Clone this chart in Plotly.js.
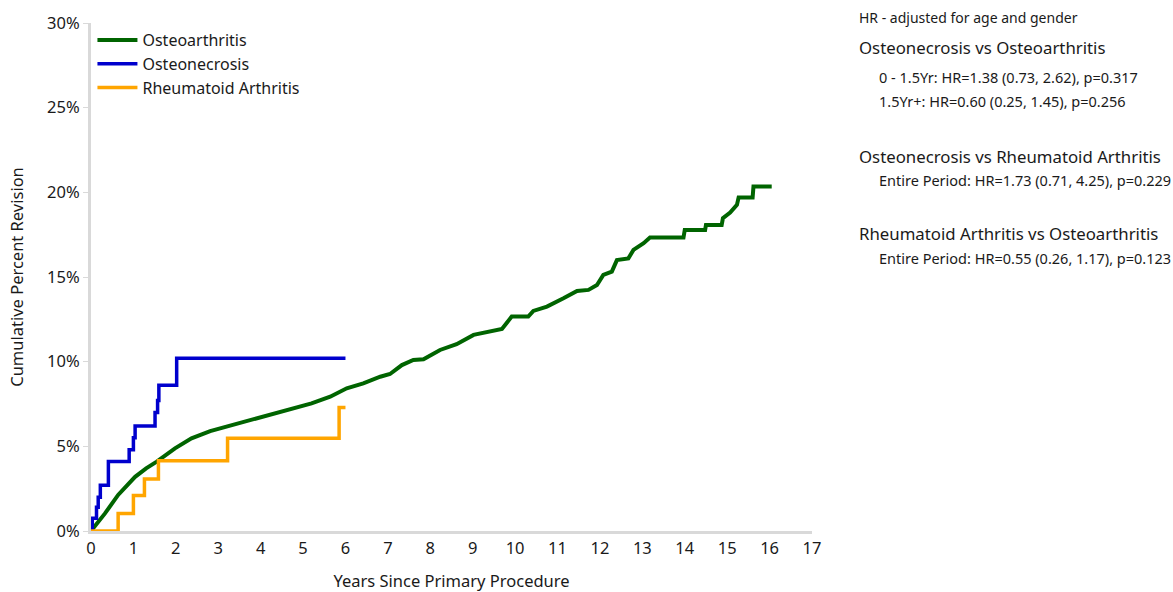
<!DOCTYPE html>
<html>
<head>
<meta charset="utf-8">
<script src="https://cdn.plot.ly/plotly-3.0.1.min.js"></script>
<style>
html,body{margin:0;padding:0;background:#fff;}
#chart{width:1173px;height:592px;}
</style>
</head>
<body>
<div id="chart"></div>
<script>
// ---- Data ----
const seriesNames = ['Osteoarthritis', 'Osteonecrosis', 'Rheumatoid Arthritis'];

const oaYears = [0, 0.1, 0.33, 0.64, 1.04, 1.3, 1.55, 1.98, 2.37, 2.81, 3.32, 3.95, 4.58, 5.2, 5.64, 6.03, 6.42, 6.82, 7.05, 7.33, 7.6, 7.84, 8.23, 8.62, 9.02, 9.41, 9.69, 9.92, 10.31, 10.43, 10.75, 11.14, 11.46, 11.73, 11.93, 12.08, 12.28, 12.4, 12.67, 12.79, 13.03, 13.18, 13.97, 14.0, 14.48, 14.5, 14.87, 14.9, 15.07, 15.23, 15.27, 15.6, 15.62, 16.05];
const oaPct   = [0, 0.3, 1.04, 2.13, 3.2, 3.7, 4.1, 4.88, 5.47, 5.9, 6.26, 6.66, 7.1, 7.54, 7.93, 8.43, 8.72, 9.11, 9.27, 9.8, 10.1, 10.14, 10.69, 11.03, 11.58, 11.77, 11.93, 12.66, 12.66, 13.0, 13.25, 13.74, 14.18, 14.24, 14.53, 15.12, 15.32, 16.0, 16.1, 16.6, 17.0, 17.33, 17.33, 17.78, 17.78, 18.07, 18.07, 18.47, 18.8, 19.26, 19.7, 19.7, 20.34, 20.34];

const onYears = [0, 0.03, 0.13, 0.17, 0.22, 0.41, 0.90, 1.0, 1.04, 1.51, 1.57, 1.60, 2.02, 6.0];
const onPct   = [0, 0.75, 1.4, 2.0, 2.7, 4.1, 4.8, 5.5, 6.2, 7.0, 7.7, 8.6, 10.2, 10.2];

const raYears = [0, 0.64, 1.0, 1.26, 1.59, 3.22, 5.85, 6.0];
const raPct   = [0, 1.04, 2.09, 3.07, 4.15, 5.47, 7.3, 7.3];

const yTickVals = [0, 5, 10, 15, 20, 25, 30];
const xTickVals = [0,1,2,3,4,5,6,7,8,9,10,11,12,13,14,15,16,17];

const noteTexts = [
  'HR - adjusted for age and gender',
  'Osteonecrosis vs Osteoarthritis',
  '0 - 1.5Yr: HR=1.38 (0.73, 2.62), p=0.317',
  '1.5Yr+: HR=0.60 (0.25, 1.45), p=0.256',
  'Osteonecrosis vs Rheumatoid Arthritis',
  'Entire Period: HR=1.73 (0.71, 4.25), p=0.229',
  'Rheumatoid Arthritis vs Osteoarthritis',
  'Entire Period: HR=0.55 (0.26, 1.17), p=0.123'
];

// ---- Styling ----
const FONT = '"Noto Sans", "Open Sans", sans-serif';
const plotL = 91, plotR = 812, plotT = 23, plotB = 531;
const W = 1173, H = 592;
const pw = plotR - plotL, ph = plotB - plotT;
const px2x = p => (p - plotL) / pw;
const px2y = p => (plotB - p) / ph;

const notePx = [
  {x: 857, y: 17, size: 14},
  {x: 857, y: 47, size: 16.8},
  {x: 877, y: 77, size: 14.5},
  {x: 877, y: 101, size: 14.5},
  {x: 857, y: 156, size: 16.8},
  {x: 877, y: 180, size: 14.5},
  {x: 857, y: 233, size: 16.8},
  {x: 877, y: 258, size: 14.5}
];

const traces = [
  {x: oaYears, y: oaPct, name: seriesNames[0], mode: 'lines', line: {color: '#006400', width: 4, shape: 'linear'}},
  {x: onYears, y: onPct, name: seriesNames[1], mode: 'lines', line: {color: '#0000CD', width: 3.5, shape: 'hv'}},
  {x: raYears, y: raPct, name: seriesNames[2], mode: 'lines', line: {color: '#FFA500', width: 3.5, shape: 'hv'}}
];

const annotations = noteTexts.map((t, i) => ({
  text: t, xref: 'paper', yref: 'paper',
  x: px2x(notePx[i].x), y: px2y(notePx[i].y),
  xanchor: 'left', yanchor: 'middle', showarrow: false,
  font: {family: FONT, size: notePx[i].size, color: '#1a1a1a'}
}));

const layout = {
  width: W, height: H,
  margin: {l: plotL, r: W - plotR, t: plotT, b: H - plotB, pad: 0},
  paper_bgcolor: '#ffffff', plot_bgcolor: '#ffffff',
  font: {family: FONT, size: 16, color: '#1a1a1a'},
  showlegend: true,
  legend: {x: 0.002, y: 1.0, xanchor: 'left', yanchor: 'top', bgcolor: 'rgba(0,0,0,0)',
           font: {family: FONT, size: 16, color: '#1a1a1a'}, tracegroupgap: 0, itemwidth: 40},
  xaxis: {
    range: [0, 17], tickvals: xTickVals, ticktext: xTickVals.map(String),
    showgrid: false, zeroline: false, showline: true, linecolor: '#d9d9d9', linewidth: 3,
    ticks: '', layer: 'below traces',
    tickfont: {family: FONT, size: 16.5, color: '#1a1a1a'},
    title: {text: 'Years Since Primary Procedure', font: {family: FONT, size: 16.5, color: '#1a1a1a'}, standoff: 20}
  },
  yaxis: {
    range: [0, 30], tickvals: yTickVals, ticktext: yTickVals.map(v => v + '%'),
    showgrid: false, zeroline: false, showline: true, linecolor: '#d9d9d9', linewidth: 3,
    ticks: 'outside', ticklen: 5, tickcolor: '#d9d9d9', tickwidth: 1, layer: 'below traces',
    tickfont: {family: FONT, size: 16.5, color: '#1a1a1a'},
    title: {text: 'Cumulative Percent Revision', font: {family: FONT, size: 16.5, color: '#1a1a1a'}, standoff: 20}
  },
  annotations: annotations
};

Plotly.newPlot('chart', traces, layout, {displayModeBar: false, staticPlot: true});
</script>
</body>
</html>
